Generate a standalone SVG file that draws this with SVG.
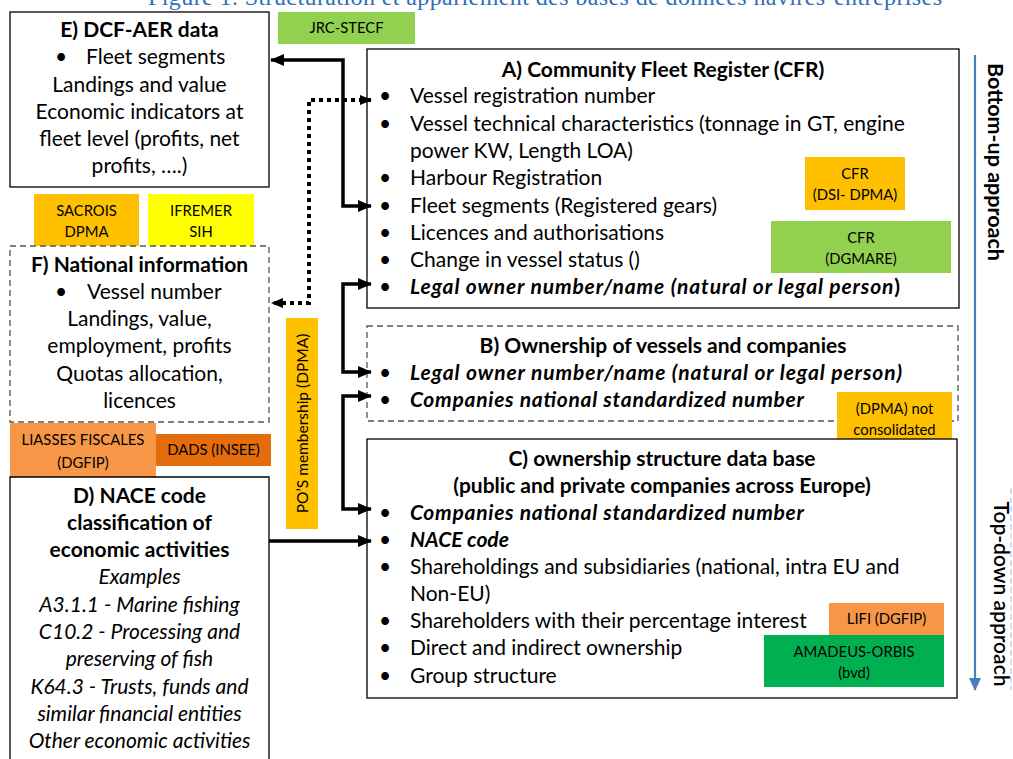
<svg xmlns="http://www.w3.org/2000/svg" width="1013" height="759" viewBox="0 0 1013 759">
<style>
text{font-family:Lato,"Open Sans","Liberation Sans",sans-serif;fill:#000}
.t{font-size:21px}
.b{font-weight:bold}
.i{font-style:italic}
.c{text-anchor:middle}
.tag{font-size:14.8px;text-anchor:middle}
.box{fill:#fff;stroke:#000;stroke-width:1.3}
.dbox{fill:#fff;stroke:#555;stroke-width:1.3;stroke-dasharray:6 4}
.con{fill:none;stroke:#000;stroke-width:3.5}
.dot{fill:none;stroke:#000;stroke-width:4;stroke-dasharray:4 4}
</style>
<defs>
<marker id="ah" markerUnits="userSpaceOnUse" markerWidth="14" markerHeight="14" refX="13" refY="7" orient="auto-start-reverse" viewBox="0 0 14 14"><path d="M0,1 L14,7 L0,13 Z" fill="#000"/></marker>
<marker id="ahs" markerUnits="userSpaceOnUse" markerWidth="12" markerHeight="12" refX="11" refY="6" orient="auto-start-reverse" viewBox="0 0 12 12"><path d="M0,1 L12,6 L0,11 Z" fill="#000"/></marker>
<marker id="ahb" markerUnits="userSpaceOnUse" markerWidth="14" markerHeight="14" refX="12" refY="7" orient="auto" viewBox="0 0 14 14"><path d="M0,1 L13,7 L0,13 Z" fill="#4a7ebb"/></marker>
</defs>
<rect width="1013" height="759" fill="#fff"/>
<text x="148" y="5" textLength="794" style="font-family:'Liberation Serif',serif;font-size:24px;fill:#2f6eba">Figure 1. Structuration et appariement des bases de données navires-entreprises</text>

<g id="approach">
<line x1="975" y1="55" x2="975" y2="690" stroke="#4a7ebb" stroke-width="2.2" marker-end="url(#ahb)"/>
<line x1="1011" y1="488" x2="1011" y2="690" stroke="#9dc3e6" stroke-width="1" stroke-dasharray="6 3"/>
<text class="b" font-size="21.5" transform="translate(988,162) rotate(90)" text-anchor="middle">Bottom-up approach</text>
<text font-size="21" transform="translate(994,594) rotate(90)" text-anchor="middle" style="font-weight:600">Top-down approach</text>
</g>

<g id="nodeE">
<rect class="box" x="10" y="12" width="259" height="175"/>
<text class="t b c" x="139.5" y="37">E) DCF-AER data</text>
<text class="t" x="55" y="64">•</text>
<text class="t" x="86" y="64">Fleet segments</text>
<text class="t c" x="139.5" y="92">Landings and value</text>
<text class="t c" x="139.5" y="119">Economic indicators at</text>
<text class="t c" x="139.5" y="146">fleet level (profits, net</text>
<text class="t c" x="139.5" y="173">profits, ….)</text>
</g>

<g id="tagJRC"><rect x="278" y="12" width="137" height="32" fill="#92d050"/><text class="tag" x="346.5" y="33">JRC-STECF</text></g>

<g id="tagSACROIS"><rect x="34" y="194" width="105" height="53" fill="#ffc000"/><text class="tag" x="86.5" y="216">SACROIS</text><text class="tag" x="86.5" y="237">DPMA</text></g>
<g id="tagIFREMER"><rect x="148" y="194" width="106" height="53" fill="#ffff00"/><text class="tag" x="201" y="216">IFREMER</text><text class="tag" x="201" y="237">SIH</text></g>

<g id="nodeF">
<rect class="dbox" x="10" y="246" width="259" height="176"/>
<text class="t b c" x="139.5" y="272">F) National information</text>
<text class="t" x="55" y="299">•</text>
<text class="t" x="87" y="299">Vessel number</text>
<text class="t c" x="139.5" y="326">Landings, value,</text>
<text class="t c" x="139.5" y="353">employment, profits</text>
<text class="t c" x="139.5" y="381">Quotas allocation,</text>
<text class="t c" x="139.5" y="408">licences</text>
</g>

<g id="tagLIASSES"><rect x="10" y="423" width="146" height="54" fill="#f79646"/><text class="tag" x="83" y="445">LIASSES FISCALES</text><text class="tag" x="83" y="468">(DGFIP)</text></g>
<g id="tagDADS"><rect x="156" y="434" width="115" height="32" fill="#e46c0a"/><text class="tag" x="213.5" y="455">DADS (INSEE)</text></g>

<g id="nodeD">
<path d="M10,759 V477 H269 V759" fill="#fff" stroke="#000" stroke-width="1.3"/>
<text class="t b c" x="139.5" y="503">D) NACE code</text>
<text class="t b c" x="139.5" y="530">classification of</text>
<text class="t b c" x="139.5" y="557">economic activities</text>
<text class="t i c" x="139.5" y="584">Examples</text>
<text class="t i c" x="139.5" y="612">A3.1.1 - Marine fishing</text>
<text class="t i c" x="139.5" y="639">C10.2 - Processing and</text>
<text class="t i c" x="139.5" y="666">preserving of fish</text>
<text class="t i c" x="139.5" y="694">K64.3 - Trusts, funds and</text>
<text class="t i c" x="139.5" y="721">similar financial entities</text>
<text class="t i c" x="139.5" y="748">Other economic activities</text>
</g>

<g id="tagPO"><rect x="286" y="318" width="32" height="211" fill="#ffc000"/><text class="tag" style="font-size:15.5px" transform="translate(307.5,423.5) rotate(-90)">PO’S membership (DPMA)</text></g>

<g id="nodeA">
<rect class="box" x="367" y="49" width="592" height="259"/>
<text class="t b c" x="663" y="77">A) Community Fleet Register (CFR)</text>
<g class="t">
<text x="379" y="103">•</text><text x="410" y="103">Vessel registration number</text>
<text x="379" y="131">•</text><text x="410" y="131">Vessel technical characteristics (tonnage in GT, engine</text>
<text x="410" y="158">power KW, Length LOA)</text>
<text x="379" y="185">•</text><text x="410" y="185">Harbour Registration</text>
<text x="379" y="213">•</text><text x="410" y="213">Fleet segments (Registered gears)</text>
<text x="379" y="240">•</text><text x="410" y="240">Licences and authorisations</text>
<text x="379" y="267">•</text><text x="410" y="267">Change in vessel status ()</text>
<text x="379" y="294">•</text><text x="410" y="294" textLength="490" lengthAdjust="spacing"><tspan class="b i">Legal owner number/name (natural or legal person</tspan><tspan class="b">)</tspan></text>
</g>
</g>
<g id="tagCFR1"><rect x="805" y="157" width="100" height="53" fill="#ffc000"/><text class="tag" x="855" y="179">CFR</text><text class="tag" x="855" y="200">(DSI- DPMA)</text></g>
<g id="tagCFR2"><rect x="771" y="221" width="180" height="52" fill="#92d050"/><text class="tag" x="861" y="243">CFR</text><text class="tag" x="861" y="264">(DGMARE)</text></g>

<g id="nodeB">
<rect class="dbox" x="367" y="326" width="591" height="95"/>
<text class="t b c" x="663" y="353">B) Ownership of vessels and companies</text>
<g class="t">
<text x="379" y="380">•</text><text class="b i" x="410" y="380" textLength="492" lengthAdjust="spacing">Legal owner number/name (natural or legal person)</text>
<text x="379" y="407">•</text><text class="b i" x="410" y="407" textLength="394" lengthAdjust="spacing">Companies national standardized number</text>
</g>
</g>
<g id="tagDPMA"><rect x="837" y="392" width="115" height="52" fill="#ffc000"/><text class="tag" x="894.5" y="414">(DPMA) not</text><text class="tag" x="894.5" y="435">consolidated</text></g>

<g id="nodeC">
<rect class="box" x="367" y="439" width="590" height="259" stroke="#555"/>
<text class="t b c" x="662" y="466">C) ownership structure data base</text>
<text class="t b c" x="662" y="493">(public and private companies across Europe)</text>
<g class="t">
<text x="379" y="520">•</text><text class="b i" x="410" y="520" textLength="394" lengthAdjust="spacing">Companies national standardized number</text>
<text x="379" y="547">•</text><text class="b i" x="410" y="547">NACE code</text>
<text x="379" y="574">•</text><text x="410" y="574">Shareholdings and subsidiaries (national, intra EU and</text>
<text x="410" y="601">Non-EU)</text>
<text x="379" y="628">•</text><text x="410" y="628">Shareholders with their percentage interest</text>
<text x="379" y="655">•</text><text x="410" y="655">Direct and indirect ownership</text>
<text x="379" y="683">•</text><text x="410" y="683">Group structure</text>
</g>
</g>
<g id="tagLIFI"><rect x="829" y="603" width="115" height="32" fill="#f79646"/><text class="tag" x="886.5" y="624">LIFI (DGFIP)</text></g>
<g id="tagAMADEUS"><rect x="764" y="635" width="180" height="52" fill="#00b050"/><text class="tag" x="854" y="657">AMADEUS-ORBIS</text><text class="tag" x="854" y="678">(bvd)</text></g>

<g id="connectors">
<path class="con" d="M271,60 H343 V206 H371" marker-start="url(#ah)" marker-end="url(#ah)"/>
<path class="dot" d="M371,100 H309 V303 H272" marker-start="url(#ahs)" marker-end="url(#ahs)"/>
<path class="con" d="M371,284 H343 V372 H371" marker-start="url(#ah)" marker-end="url(#ah)"/>
<path class="con" d="M371,396 H343 V509 H371" marker-start="url(#ah)" marker-end="url(#ah)"/>
<path class="con" d="M269,541 H371" marker-end="url(#ah)"/>
</g>
</svg>
